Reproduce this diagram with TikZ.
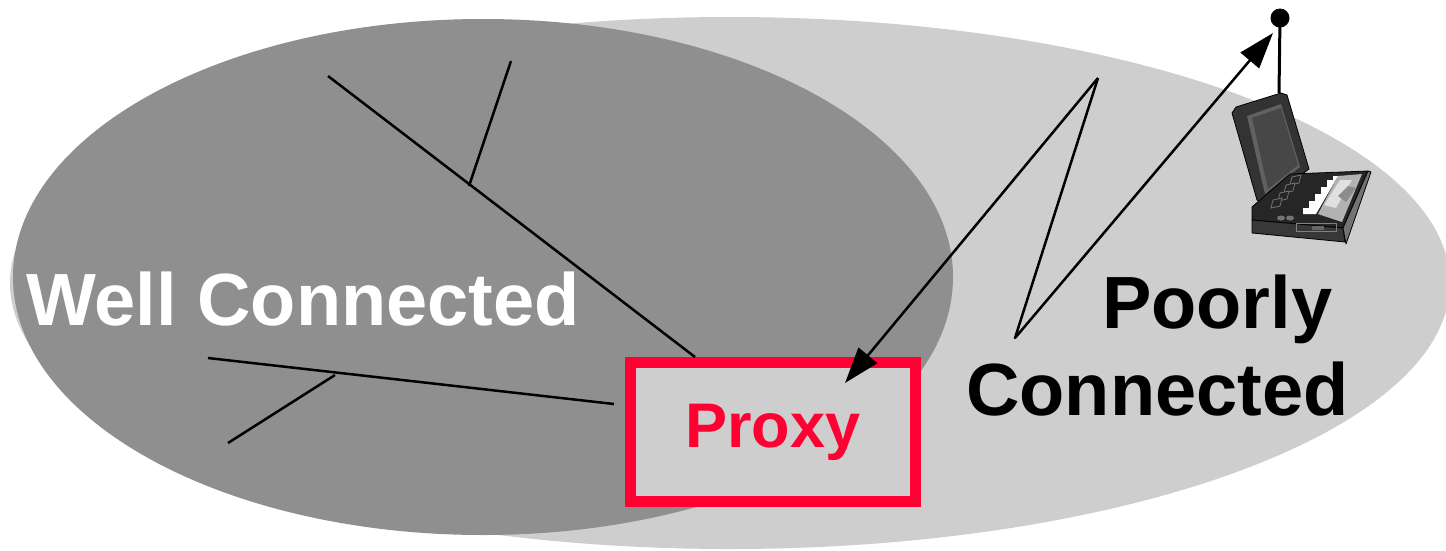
\documentclass[tikz,border=0pt]{standalone}
\usepackage{fontspec}
\setmainfont{Liberation Sans}
\usetikzlibrary{arrows.meta}
\definecolor{wellgray}{HTML}{8F8F8F}
\definecolor{poorgray}{HTML}{CECECE}
\definecolor{proxyred}{HTML}{FF0033}

\begin{document}
\begin{tikzpicture}[x=1pt,y=-1pt,
  wire/.style={line width=2.5pt, black, line join=round},
  link/.style={wire, -{Triangle[length=36pt,width=24pt]}},
  biglabel/.style={font=\fontsize{74}{80}\selectfont\bfseries, inner sep=0pt, anchor=base west},
  proxybox/.style={draw=proxyred, line width=11pt, fill=poorgray,
    minimum width=285pt, minimum height=139pt, inner sep=0pt,
    text=proxyred, font=\fontsize{63}{70}\selectfont\bfseries},
  laptopedge/.style={draw=black, line width=0.8pt, line join=round},
]
\useasboundingbox (0,0) rectangle (1446,550);

% the two regions
\fill[poorgray] (730,283) ellipse [x radius=720pt, y radius=266pt];
\fill[wellgray] (483,277) ellipse [x radius=470pt, y radius=258pt];

% labels
\node[biglabel, text=white] (well) at (26,325) {Well Connected};
\node[biglabel] (poorly) at (1102,328) {Poorly};
\node[biglabel] (connected) at (966,415) {Connected};

% proxy
\node[proxybox] (proxy) at (773,432) {Proxy};

% wired network
\coordinate (a1) at (328,76);
\coordinate (a2) at (695,357);
\coordinate (a3) at (469,186);
\coordinate (a4) at (511,61);
\coordinate (b1) at (208,358);
\coordinate (b2) at (614,404);
\coordinate (b3) at (335,375);
\coordinate (b4) at (228,443);
\draw[wire] (a1) -- (a2);
\draw[wire] (a3) -- (a4);
\draw[wire] (b1) -- (b2);
\draw[wire] (b3) -- (b4);

% wireless link
\coordinate (z1) at (1098,78);
\coordinate (z2) at (1015,338);
\coordinate (pin) at (845,383);
\coordinate (ant) at (1273,33);
\draw[link] (z1) -- (pin);
\draw[link] (z1) -- (z2) -- (ant);

% antenna
\coordinate (lidtop) at (1279,93);
\node[circle, fill=black, minimum size=19pt, inner sep=0pt] (ball) at (1280,18) {};
\draw[line width=3pt] (ball.center) -- (lidtop);

% laptop: lid
\fill[laptopedge, fill=black!80] (1232,113) -- (1236,107) -- (1281,93) -- (1287,95)
  -- (1309,169) -- (1262,203) -- (1257,200) -- cycle;
\fill[black!62] (1247,116) -- (1281,104) -- (1300,167) -- (1265,194) -- cycle;
\fill[black!72] (1252,118) -- (1281,108) -- (1298,165) -- (1268,189) -- cycle;
% laptop: base
\fill[laptopedge, fill=black!85] (1252,207) -- (1290,174) -- (1368,171) -- (1343,228)
  -- (1252,220) -- cycle;
\fill[laptopedge, fill=black!78] (1252,220) -- (1343,228) -- (1345,242) -- (1252,233) -- cycle;
\fill[laptopedge, fill=black!55] (1343,228) -- (1368,171) -- (1371,172) -- (1346,244) -- cycle;
% keyboard
\fill[black!30] (1318,214) -- (1338,176) -- (1362,174) -- (1342,222) -- cycle;
\fill[black!12] (1324,205) -- (1340,180) -- (1352,180) -- (1336,208) -- cycle;
\fill[black!45] (1338,196) -- (1348,186) -- (1356,188) -- (1346,202) -- cycle;
\fill[white] (1303,214) -- (1303,208) -- (1309,208) -- (1309,201) -- (1315,201)
  -- (1315,194) -- (1321,194) -- (1321,187) -- (1327,187) -- (1327,180)
  -- (1333,180) -- (1333,176) -- (1338,176) -- (1316,214) -- cycle;
% hinge keys
\foreach \x/\y in {1292/177, 1286/185, 1280/193, 1273/200}
  \draw[black!55, line width=0.8pt, fill=black!85] (\x,\y) -- ++(9,-2) -- ++(-2,8) -- ++(-9,2) -- cycle;
% front details
\fill[black!55] (1281,218) ellipse [x radius=4pt, y radius=2.5pt];
\fill[black!55] (1290,218) ellipse [x radius=4pt, y radius=2.5pt];
\draw[black!50, line width=0.8pt] (1296,223) rectangle (1336,231);
\fill[black!60] (1312,226) rectangle (1324,230);
\end{tikzpicture}
\end{document}
